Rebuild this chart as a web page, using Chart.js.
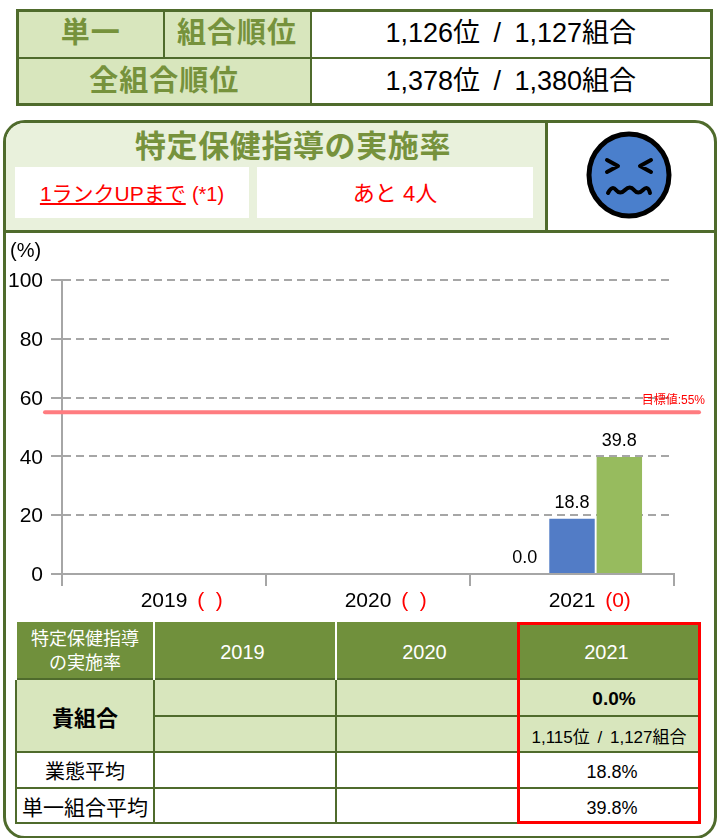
<!DOCTYPE html>
<html lang="ja">
<head>
<meta charset="utf-8">
<title>特定保健指導の実施率</title>
<script src="https://cdn.jsdelivr.net/npm/chart.js@4"></script>
<style>
    html, body { margin: 0; padding: 0; background: #fff; overflow: hidden; }
    body { width: 722px; height: 838px; position: relative; font-family: "Liberation Sans", "Noto Sans CJK JP", sans-serif; color: #000; }
    table { border-collapse: collapse; table-layout: fixed; position: absolute; text-align: center; }
    td { padding: 0; border: 2px solid #4f6b2c; }
    #rank { left: 16px; top: 9px; width: 697px; height: 95px; border: 3px solid #4f6b2c; }
    #rank tr { height: 47px; }
    #rank td { line-height: 30px; padding-bottom: 2px; }
    #rank tr + tr td { padding-bottom: 0; }
    #rank .head { background: #d8e6bd; color: #76923c; font-size: 29px; font-weight: bold; letter-spacing: 1px; }
    #rank .val { font-size: 27px; word-spacing: 6px; }
    #panel { position: absolute; left: 3px; top: 120px; width: 708px; height: 713px; border: 3px solid #4f6b2c; border-radius: 22px; overflow: hidden; }
    #cabecera { position: absolute; left: 0; top: 0; width: 539px; height: 107px; background: #e9f1dc; border-right: 3px solid #4f6b2c; border-bottom: 3px solid #4f6b2c; }
    #linea { position: absolute; left: 542px; top: 107px; width: 166px; height: 3px; background: #4f6b2c; }
    #titulo { position: absolute; left: 0; top: 3px; width: 574px; text-align: center; color: #76923c; font-size: 31px; font-weight: bold; line-height: 42px; letter-spacing: 0.6px; }
    .caja { position: absolute; top: 44px; height: 51px; line-height: 53px; background: #fff; color: #f00; text-align: center; font-size: 22px; }
    #cara { position: absolute; left: 584px; top: 131px; }
    #grafico { position: absolute; left: 0; top: 235px; }
    #detalle { left: 15px; top: 622px; width: 684px; font-size: 18px; }
    #detalle th { background: #70903c; color: #fff; font-weight: normal; font-size: 20px; padding: 4px 5px 0 0; border: 2px solid #fff; border-top: none; border-bottom: none; }
    #detalle .claro { background: #d8e6bd; }
    #detalle .num { font-size: 18px; padding: 5px 0 0 6px; }
    #rojo { position: absolute; left: 517px; top: 622px; width: 178px; height: 196px; border: 3px solid #f00; }
</style>
</head>
<body>

<table id="rank">
    <colgroup><col style="width:146px"><col style="width:147px"><col></colgroup>
    <tr><td class="head">単一</td><td class="head">組合順位</td><td class="val">1,126位 / 1,127組合</td></tr>
    <tr><td class="head" colspan="2">全組合順位</td><td class="val">1,378位 / 1,380組合</td></tr>
</table>

<div id="panel">
    <div id="cabecera"></div>
    <div id="linea"></div>
    <div id="titulo">特定保健指導の実施率</div>
    <div class="caja" style="left:9px;width:234px"><span style="text-decoration:underline;font-size:21px">1ランクUPまで</span> <span style="font-size:20px">(*1)</span></div>
    <div class="caja" style="left:251px;width:276px">あと 4人</div>
</div>

<svg id="cara" width="90" height="90" viewBox="0 0 90 90">
    <ellipse cx="45" cy="44" rx="40" ry="41" fill="#4a7fcc" stroke="#000" stroke-width="5"/>
    <path d="M23 29 L34 35 L23 41 M67 29 L56 35 L67 41" fill="none" stroke="#000" stroke-width="4" stroke-linecap="round" stroke-linejoin="round"/>
    <path d="M24 62 Q28 54 32 59 T41 59 T50 59 T59 59 T66 62" fill="none" stroke="#000" stroke-width="4" stroke-linecap="round"/>
</svg>

<canvas id="grafico" width="722" height="380"></canvas>

<table id="detalle">
    <colgroup><col style="width:138px"><col style="width:182px"><col style="width:182px"><col style="width:182px"></colgroup>
    <tr style="height:57px"><th style="line-height:24px;font-size:18px;padding:2px 0 0 0">特定保健指導<br>の実施率</th><th>2019</th><th>2020</th><th>2021</th></tr>
    <tr style="height:37px"><td class="claro" rowspan="2" style="font-weight:bold;font-size:22px">貴組合</td><td class="claro"></td><td class="claro"></td><td class="claro" style="font-weight:bold;font-size:19px;padding:2px 0 0 10px">0.0%</td></tr>
    <tr style="height:36px"><td class="claro"></td><td class="claro"></td><td class="claro" style="font-size:17px;word-spacing:3px;padding-top:2px">1,115位 / 1,127組合</td></tr>
    <tr style="height:36px"><td style="font-size:20px">業態平均</td><td></td><td></td><td class="num">18.8%</td></tr>
    <tr style="height:35px"><td style="font-size:21px">単一組合平均</td><td></td><td></td><td class="num">39.8%</td></tr>
</table>
<div id="rojo"></div>

<script>
// Datos
const anios = ["2019", "2020", "2021"];
const rangos = ["(  )", "(  )", "(0)"];
const kumiai = [null, null, 0.0];
const gyotai = [null, null, 18.8];
const tanitsu = [null, null, 39.8];
const ticksY = [0, 20, 40, 60, 80, 100];
const objetivo = 55;
const etiquetaObjetivo = "目標値:55%";

const fuente = '"Liberation Sans", "Noto Sans CJK JP", sans-serif';
const gris = "#a6a6a6";

// Textos y línea que la librería no dibuja por sí sola
const extras = {
    id: "extras",
    afterDatasetsDraw(chart) {
        const ctx = chart.ctx;
        const area = chart.chartArea;
        const escalaX = chart.scales.x;
        const escalaY = chart.scales.y;
        const yObjetivo = escalaY.getPixelForValue(objetivo);
        ctx.save();

        // línea de objetivo
        ctx.strokeStyle = "#ff7c80";
        ctx.lineWidth = 4;
        ctx.lineCap = "round";
        ctx.beginPath();
        ctx.moveTo(area.left - 17, yObjetivo);
        ctx.lineTo(area.right + 25, yObjetivo);
        ctx.stroke();

        ctx.fillStyle = "#f00";
        ctx.font = "12px " + fuente;
        ctx.textAlign = "right";
        ctx.textBaseline = "middle";
        ctx.fillText(etiquetaObjetivo, area.right + 31, yObjetivo - 12);

        // (%)
        ctx.fillStyle = "#000";
        ctx.font = "20px " + fuente;
        ctx.textAlign = "left";
        ctx.fillText("(%)", 10, 16);

        // etiquetas sobre las barras
        ctx.font = "18px " + fuente;
        ctx.textAlign = "center";
        ctx.textBaseline = "bottom";
        chart.data.datasets.forEach(function (serie, i) {
            chart.getDatasetMeta(i).data.forEach(function (barra, j) {
                if (serie.data[j] === null) return;
                ctx.fillText(serie.data[j].toFixed(1), barra.x, barra.y - 7);
            });
        });

        // rango en rojo junto al año
        ctx.fillStyle = "#f00";
        ctx.font = '21px ' + fuente;
        ctx.textBaseline = "middle";
        rangos.forEach(function (texto, i) {
            ctx.fillText(texto, escalaX.getPixelForTick(i) + 46, 366.5);
        });
        ctx.restore();
    }
};

function serie(nombre, datos, color) {
    return {
        label: nombre,
        data: datos,
        backgroundColor: color,
        categoryPercentage: 0.696,
        barPercentage: 0.96
    };
}

new Chart(document.getElementById("grafico"), {
    type: "bar",
    data: {
        labels: anios,
        datasets: [
            serie("貴組合", kumiai, "#c0504d"),
            serie("業態平均", gyotai, "#527cc6"),
            serie("単一組合平均", tanitsu, "#97bb5e")
        ]
    },
    options: {
        responsive: false,
        animation: false,
        layout: { padding: { top: 45, right: 48, left: 0, bottom: 0 } },
        plugins: { legend: { display: false }, tooltip: { enabled: false } },
        scales: {
            x: {
                afterFit(escala) { escala.height = 41; },
                grid: { drawOnChartArea: false, color: gris, lineWidth: 2, tickLength: 12 },
                border: { color: gris, width: 2 },
                ticks: { color: "#000", font: { size: 21, family: fuente }, padding: 3, maxRotation: 0 }
            },
            y: {
                min: 0,
                max: 100,
                afterFit(escala) { escala.width = 62; },
                afterBuildTicks(escala) { escala.ticks = ticksY.map(v => ({ value: v })); },
                grid: { color: gris, lineWidth: 2, tickLength: 11, tickColor: gris },
                border: {
                    color: gris,
                    width: 2,
                    dash: function (c) { return c.tick && c.tick.value === 0 ? [] : [8, 5]; }
                },
                ticks: { color: "#000", font: { size: 21, family: fuente }, padding: 8, labelOffset: 1.5 }
            }
        }
    },
    plugins: [extras]
});
</script>
</body>
</html>
